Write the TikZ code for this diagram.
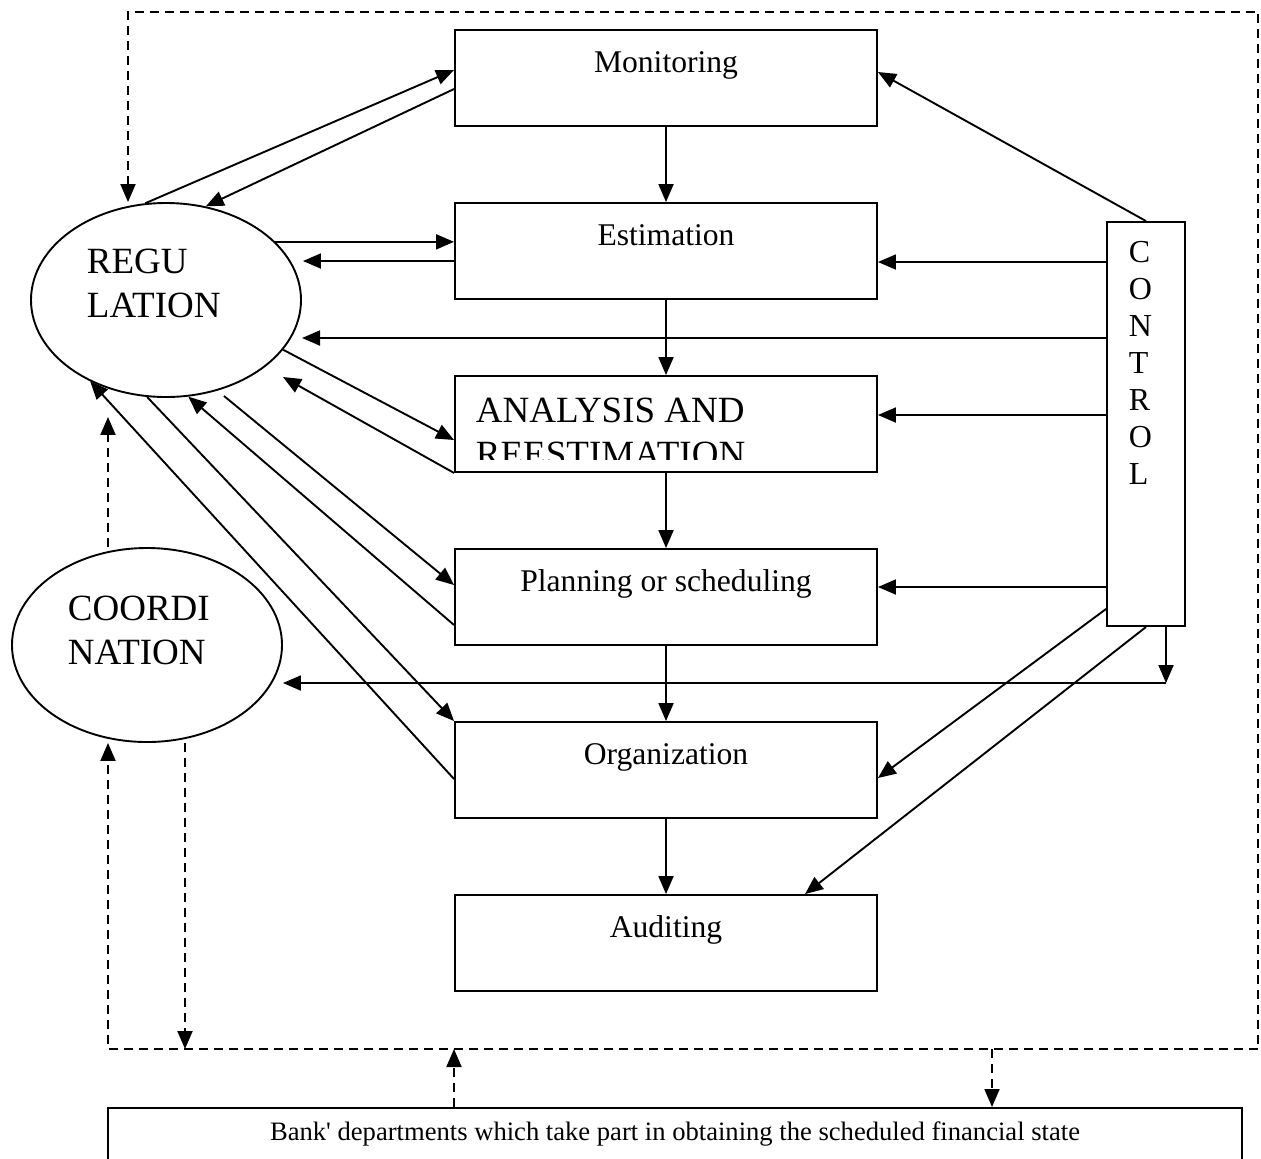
\documentclass[tikz,border=0pt]{standalone}
\usepackage{fontspec}
\setmainfont{Liberation Serif}
\usetikzlibrary{arrows.meta,shapes.geometric,calc}

\begin{document}
\begin{tikzpicture}[
    x=0.5pt, y=-0.5pt,
    line width=0.95pt,
    >={Triangle[length=9pt,width=7.5pt]},
    stage/.style={draw, minimum width=211pt, inner xsep=0pt, inner ysep=4pt, text height=17pt, text depth=23pt, font=\fontsize{15.8}{19}\selectfont},
    oval/.style={draw, ellipse, minimum width=135pt, minimum height=97pt, inner sep=0pt},
    bigtxt/.style={anchor=north west, inner sep=0pt, align=left, font=\fontsize{18.5}{22}\selectfont},
    ctrlbox/.style={draw, minimum width=39pt, minimum height=202pt, inner sep=0pt},
    bankbox/.style={draw, minimum width=567pt, inner ysep=4pt, text height=12.5pt, text depth=29.5pt, font=\fontsize{13.3}{16}\selectfont},
    dline/.style={dash pattern=on 4.5pt off 3pt},
]
    \useasboundingbox (0,0) rectangle (1261,1158);

    % Stages
    \node[stage] (mon)  at (666,78)  {Monitoring};
    \node[stage] (est)  at (666,251) {Estimation};
    \node[stage] (ana)  at (666,424) {};
    \node[stage] (plan) at (666,597) {Planning or scheduling};
    \node[stage] (org)  at (666,770) {Organization};
    \node[stage] (aud)  at (666,943) {Auditing};
    \begin{scope}
        \clip (ana.north west) rectangle ($(ana.south east)+(0,-13)$);
        \node[bigtxt] (anatxt) at (475,397) {ANALYSIS AND\\REESTIMATION};
    \end{scope}

    % Regulation and coordination
    \node[oval] (reg) at (166,300) {};
    \node[bigtxt] (regtxt) at (86,248) {REGU\\LATION};
    \node[oval] (coord) at (147,645) {};
    \node[bigtxt] (coordtxt) at (67,595) {COORDI\\NATION};

    % Control
    \node[ctrlbox] (ctrl) at (1146,424) {};
    \node[anchor=north west, inner sep=0pt, align=left, font=\fontsize{16}{18.5}\selectfont] (ctrltxt) at (1128,240) {C\\O\\N\\T\\R\\O\\L};

    % Bank departments
    \node[bankbox, anchor=north] (bank) at (675,1107) {Bank\textquotesingle{} departments which take part in obtaining the scheduled financial state};

    % Main chain
    \foreach \a/\b in {mon/est, est/ana, ana/plan, plan/org, org/aud}
        \draw[->] (\a) -- (\b);

    % Regulation <-> stages
    \draw[->] (reg.102) -- ($(mon.west)+(0,-8)$);
    \draw[->] ($(mon.west)+(0,11)$) -- (reg.67);
    \draw[->] (reg.28) -- (reg.28 -| est.west);
    \draw[->] ($(est.west)+(0,10)$) -- ($(reg.east |- est.west)+(1,10)$);
    \draw[->] (reg.-23) -- ($(ana.west)+(0,16)$);
    \draw[->] (ana.south west) -- ($(reg.center)+(117,77)$);
    \draw[->] ($(reg.center)+(58,96)$) -- ($(plan.west)+(0,-12)$);
    \draw[->] ($(plan.west)+(0,28)$) -- (reg.-77);
    \draw[->] (reg.-101) -- (org.north west);
    \draw[->] ($(org.west)+(0,9)$) -- (reg.-133);

    % Control -> stages
    \draw[->] (ctrl.north) -- ($(mon.east)+(0,-6)$);
    \draw[->] ($(ctrl.west |- est.east)+(0,11)$) -- ($(est.east)+(0,11)$);
    \draw[->] ($(ctrl.west |- reg.center)+(0,38)$) -- ($(reg.center)+(136,38)$);
    \draw[->] ($(ctrl.west |- ana.east)+(0,-9)$) -- ($(ana.east)+(0,-9)$);
    \draw[->] ($(ctrl.west |- plan.east)+(0,-10)$) -- ($(plan.east)+(0,-10)$);
    \draw[->] ($(ctrl.south west)+(0,-18)$) -- ($(org.east)+(0,8)$);
    \draw[->] (ctrl.south) -- ($(aud.north)+(139,0)$);
    \coordinate (cc) at (1166,683);
    \draw[->] (ctrl.south -| cc) -- (cc);
    \draw[->] (cc) -- (coord.east |- cc);

    % Dashed feedback loop
    \coordinate (tl) at (128,12);
    \coordinate (tr) at (1258,12);
    \coordinate (br) at (1258,1049);
    \coordinate (bl) at (108,1049);
    \draw[dline, <->] (tl |- reg.north) -- (tl) -- (tr) -- (br) -- (bl) -- (bl |- coord.south);
    \draw[dline, ->] (coord.north -| bl) -- ($(reg.south -| bl)+(0,19)$);
    \coordinate (cd) at (185,1049);
    \draw[dline, ->] (coord.south -| cd) -- (cd);
    \coordinate (bu) at (454,1049);
    \coordinate (bd) at (992,1049);
    \draw[dline, ->] (bank.north -| bu) -- (bu);
    \draw[dline, ->] (bd) -- (bd |- bank.north);
\end{tikzpicture}
\end{document}
